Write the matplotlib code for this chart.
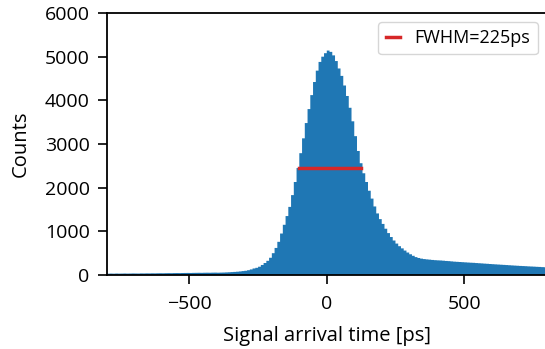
#!/usr/bin/env python3
"""Arrival-time histogram with FWHM marker."""

import numpy as np
import matplotlib
matplotlib.use("Agg")
import matplotlib.pyplot as plt

plt.rcParams["font.family"] = ["Open Sans", "DejaVu Sans"]

# histogram: 10 ps bins starting at -800 ps (counts)
bin_lo = -800
bin_width = 10
counts = [
    # -800 .. -410
    30, 33, 31, 34, 32, 33, 35, 33, 34, 36,
    35, 34, 37, 36, 38, 37, 39, 38, 40, 41,
    40, 42, 43, 42, 44, 45, 44, 46, 47, 48,
    47, 49, 50, 51, 50, 52, 53, 52, 54, 55,
    # -400 .. -210
    53, 55, 57, 60, 63, 67, 71, 76, 82, 90,
    97, 110, 128, 150, 165, 190, 230, 275, 325, 395,
    # -200 .. -10
    500, 620, 760, 950, 1150, 1350, 1560, 1830, 2130, 2450,
    2790, 3130, 3480, 3800, 4120, 4420, 4680, 4880, 5000, 5080,
    # 0 .. 190
    5140, 5110, 5030, 4900, 4730, 4560, 4340, 4100, 3830, 3520,
    3180, 2840, 2560, 2330, 2130, 1930, 1750, 1570, 1410, 1280,
    # 200 .. 390
    1170, 1060, 960, 870, 790, 720, 660, 610, 560, 515,
    475, 440, 410, 390, 375, 365, 358, 352, 345, 340,
    # 400 .. 590
    336, 333, 328, 322, 318, 312, 306, 302, 298, 294,
    290, 286, 282, 279, 274, 270, 266, 261, 257, 252,
    # 600 .. 790
    248, 244, 240, 236, 232, 228, 224, 220, 216, 212,
    208, 205, 202, 198, 195, 192, 188, 185, 181, 178,
]

fwhm_left = -101
fwhm_right = 124
half_max = 2460
fwhm_label = "FWHM=225ps"

x_ticks = [-500, 0, 500]
y_ticks = [0, 1000, 2000, 3000, 4000, 5000, 6000]

# outline of the stepped histogram
edges = bin_lo + bin_width * np.arange(len(counts) + 1)
xs = np.repeat(edges, 2)
ys = np.concatenate([[0], np.repeat(counts, 2), [0]])

fig = plt.figure(figsize=(5.45, 3.49), dpi=100)
ax = fig.add_axes([0.1963, 0.212, 0.8066, 0.7507])

poly = ax.fill(xs, ys, color="#1f77b4", linewidth=0)[0]
poly.set_snap(False)
ax.plot([fwhm_left, fwhm_right], [half_max, half_max], color="#d62728",
        lw=2.5, label=fwhm_label)

ax.set_xlim(-800, 800)
ax.set_ylim(0, 6000)
ax.set_xticks(x_ticks)
ax.set_yticks(y_ticks)
ax.set_xlabel("Signal arrival time [ps]", fontsize=14.5, labelpad=9)
ax.set_ylabel("Counts", fontsize=14.5, labelpad=10)
ax.tick_params(labelsize=14, width=1.2, length=6.5, pad=6)
ax.tick_params(axis="x", pad=8)
for sp in ax.spines.values():
    sp.set_linewidth(1.3)

ax.legend(loc="upper right", fontsize=13, handlelength=0.8, fancybox=True)

fig.savefig("out.png", dpi=100)
